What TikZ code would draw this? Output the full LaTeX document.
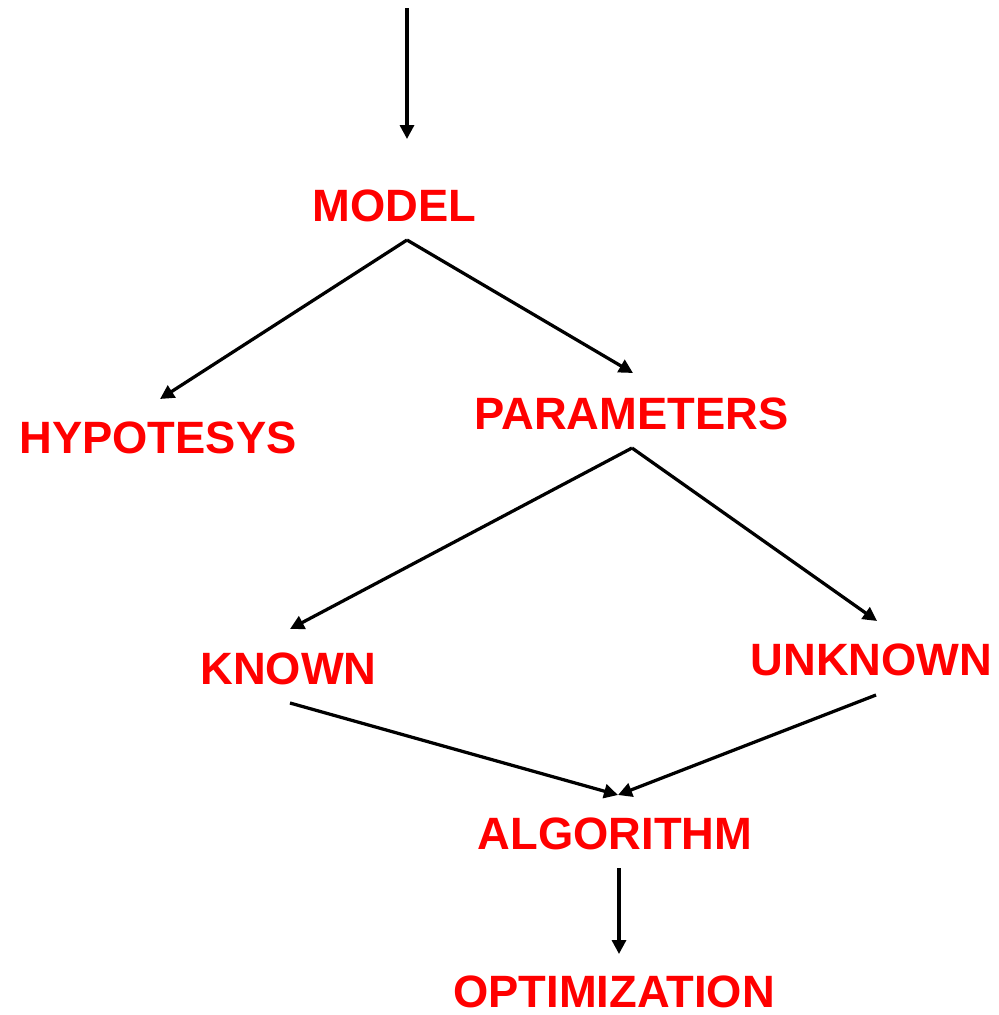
\documentclass[tikz,border=0pt]{standalone}
\usepackage{fontspec}
\setmainfont{Liberation Sans}
\usetikzlibrary{arrows.meta}
\definecolor{lblred}{RGB}{255,0,0}
\begin{document}
\begin{tikzpicture}[x=0.02cm,y=-0.02cm,
  lbl/.style={anchor=base,inner sep=0pt,text=lblred,font=\fontsize{25.8}{31}\selectfont\bfseries},
  conn/.style={line width=0.065cm,-{Triangle[length=0.28cm,width=0.28cm]}}]
\useasboundingbox (0,0) rectangle (999,1015);
% labels
\node[lbl] (model) at (394.5,221) {MODEL};
\node[lbl] (hyp) at (158,453) {HYPOTESYS};
\node[lbl] (param) at (631.5,429) {PARAMETERS};
\node[lbl] (known) at (288.5,684) {KNOWN};
\node[lbl] (unknown) at (871.5,675) {UNKNOWN};
\node[lbl] (algo) at (615,849) {ALGORITHM};
\node[lbl] (opt) at (614,1007.5) {OPTIMIZATION};
% connector end points
\coordinate (top) at (407,8);
\coordinate (modelin) at (407,139);
\coordinate (modelout) at (407,240);
\coordinate (hypin) at (160,399);
\coordinate (paramin) at (633,373);
\coordinate (paramout) at (632,448);
\coordinate (knownin) at (290,629);
\coordinate (unknownin) at (877,621);
\coordinate (knownout) at (290,703);
\coordinate (unknownout) at (876,695);
\coordinate (algoin) at (618,795);
\coordinate (algoout) at (619,868);
\coordinate (optin) at (619,954);
% connectors
\draw[conn] (top) -- (modelin);
\draw[conn] (modelout) -- (hypin);
\draw[conn] (modelout) -- (paramin);
\draw[conn] (paramout) -- (knownin);
\draw[conn] (paramout) -- (unknownin);
\draw[conn] (knownout) -- (algoin);
\draw[conn] (unknownout) -- (algoin);
\draw[conn] (algoout) -- (optin);
\end{tikzpicture}
\end{document}
